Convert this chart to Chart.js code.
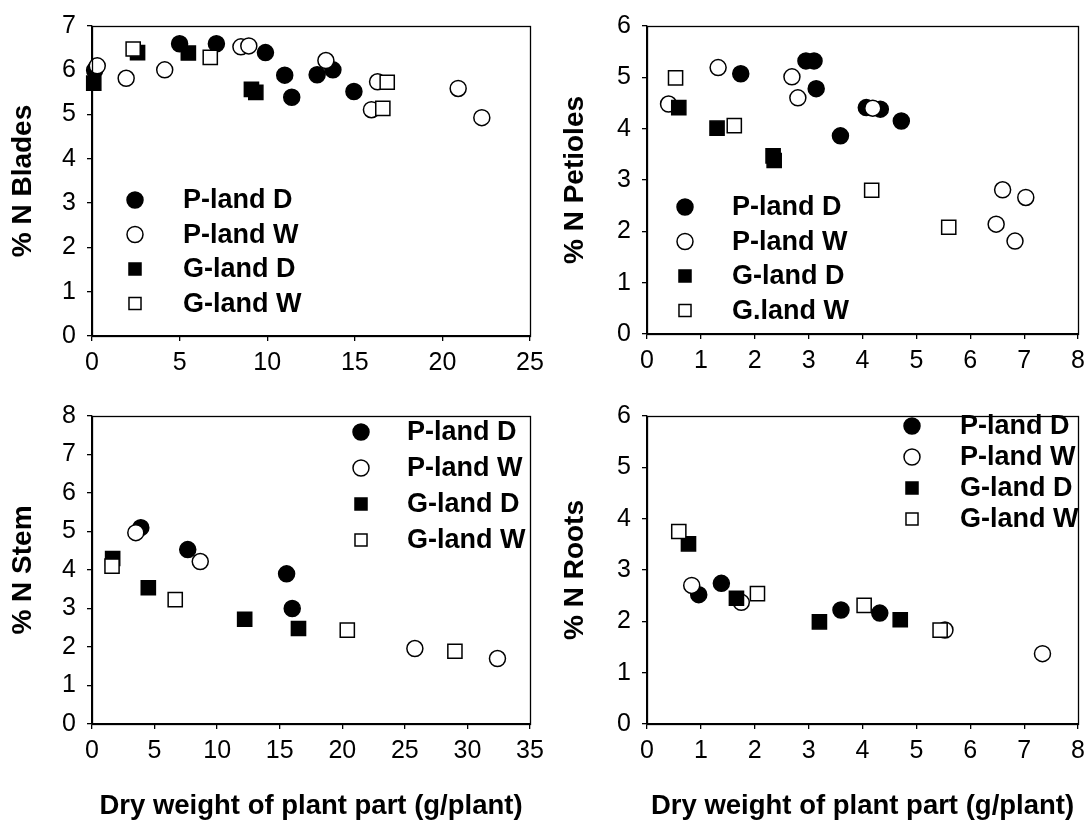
<!DOCTYPE html>
<html>
<head>
<meta charset="utf-8">
<script src="https://cdn.jsdelivr.net/npm/chart.js"></script>
<style>
  body { margin: 0; background: #fff; }
  #wrap { position: relative; width: 1092px; height: 826px; }
  canvas { position: absolute; }
</style>
</head>
<body>
<div id="wrap">
  <canvas id="c1" width="556" height="390" style="left:0;top:0"></canvas>
  <canvas id="c2" width="536" height="390" style="left:556px;top:0"></canvas>
  <canvas id="c3" width="556" height="436" style="left:0;top:390px"></canvas>
  <canvas id="c4" width="536" height="436" style="left:556px;top:390px"></canvas>
</div>
<script>
// series names
const seriesNames = ["P-land D", "P-land W", "G-land D", "G-land W"];
const seriesNamesPetioles = ["P-land D", "P-land W", "G-land D", "G.land W"];

// % N Blades  [dry weight, %N]
const bladesPD = [[0.15, 6.0], [5.0, 6.6], [7.1, 6.6], [9.9, 6.4], [11.0, 5.89], [11.4, 5.39], [12.85, 5.9], [13.75, 6.01], [14.95, 5.52]];
const bladesPW = [[0.3, 6.1], [1.95, 5.82], [4.15, 6.01], [8.5, 6.53], [8.95, 6.55], [13.35, 6.22], [16.3, 5.74], [15.95, 5.11], [20.9, 5.59], [22.25, 4.93]];
const bladesGD = [[0.1, 5.71], [2.6, 6.4], [5.5, 6.39], [9.1, 5.57], [9.35, 5.5]];
const bladesGW = [[2.35, 6.48], [6.75, 6.29], [16.85, 5.73], [16.6, 5.14]];

// % N Petioles
const petiolesPD = [[1.74, 5.07], [2.95, 5.32], [3.1, 5.32], [3.14, 4.78], [3.59, 3.86], [4.07, 4.41], [4.33, 4.38], [4.72, 4.15]];
const petiolesPW = [[0.4, 4.48], [1.32, 5.19], [2.69, 5.01], [2.8, 4.6], [4.19, 4.4], [6.6, 2.81], [7.03, 2.66], [6.48, 2.14], [6.83, 1.81]];
const petiolesGD = [[0.59, 4.41], [1.3, 4.01], [2.34, 3.47], [2.36, 3.38]];
const petiolesGW = [[0.53, 4.99], [1.62, 4.06], [4.17, 2.8], [5.6, 2.08]];

// % N Stem
const stemPD = [[3.9, 5.1], [7.65, 4.53], [15.55, 3.9], [16.0, 3.0]];
const stemPW = [[3.5, 4.97], [8.65, 4.22], [25.8, 1.96], [32.4, 1.7]];
const stemGD = [[1.65, 4.3], [4.5, 3.54], [12.2, 2.72], [16.5, 2.48]];
const stemGW = [[1.6, 4.1], [6.65, 3.23], [20.4, 2.44], [29.0, 1.89]];

// % N Roots
const rootsPD = [[0.96, 2.52], [1.38, 2.74], [3.6, 2.22], [4.32, 2.16]];
const rootsPW = [[0.83, 2.7], [1.75, 2.37], [5.53, 1.83], [7.34, 1.37]];
const rootsGD = [[0.77, 3.51], [1.66, 2.45], [3.2, 1.99], [4.7, 2.03]];
const rootsGW = [[0.59, 3.75], [2.05, 2.54], [4.03, 2.31], [5.44, 1.83]];

const FONT = "'Liberation Sans', Arial, sans-serif";

const frame = {
  id: "frame",
  afterDatasetsDraw(chart) {
    const a = chart.chartArea, ctx = chart.ctx;
    ctx.save();
    ctx.strokeStyle = "#000";
    ctx.lineWidth = 1.3;
    ctx.strokeRect(Math.round(a.left) + 0.5, Math.round(a.top) + 0.5, Math.round(a.right - a.left), Math.round(a.bottom - a.top));
    ctx.restore();
  }
};

const innerLegend = {
  id: "innerLegend",
  afterDraw(chart, args, opts) {
    const ctx = chart.ctx;
    ctx.save();
    ctx.font = "bold 27px " + FONT;
    ctx.textBaseline = "middle";
    chart.data.datasets.forEach((ds, i) => {
      const y = opts.y + i * opts.dy;
      ctx.fillStyle = ds.backgroundColor;
      ctx.strokeStyle = ds.borderColor;
      ctx.lineWidth = ds.borderWidth;
      Chart.helpers.drawPoint(ctx, { pointStyle: ds.pointStyle, radius: ds.pointStyle === "circle" ? 8 : 8.5, borderWidth: ds.borderWidth }, opts.x, y);
      ctx.fillStyle = "#000";
      ctx.fillText(ds.label, opts.tx, y + 1);
    });
    ctx.restore();
  }
};

function series(label, pts, filled, style, order) {
  return {
    label: label,
    data: pts.map(p => ({ x: p[0], y: p[1] })),
    pointStyle: style,
    pointRadius: style === "circle" ? 8 : 10,
    pointHoverRadius: style === "circle" ? 8 : 10,
    backgroundColor: filled ? "#000" : "#fff",
    borderColor: "#000",
    borderWidth: 1.5,
    clip: false,
    order: order
  };
}

function makePanel(id, cfg) {
  new Chart(document.getElementById(id), {
    type: "scatter",
    data: {
      datasets: [
        series(cfg.names[0], cfg.sets[0], true, "circle", 3),
        series(cfg.names[1], cfg.sets[1], false, "circle", 2),
        series(cfg.names[2], cfg.sets[2], true, "rect", 1),
        series(cfg.names[3], cfg.sets[3], false, "rect", 0)
      ]
    },
    options: {
      responsive: false,
      animation: false,
      events: [],
      layout: { padding: { left: 0, top: cfg.padTop, right: cfg.padRight, bottom: 0 } },
      plugins: {
        legend: { display: false },
        tooltip: { enabled: false },
        innerLegend: cfg.legend
      },
      scales: {
        x: {
          type: "linear",
          min: 0, max: cfg.xMax,
          ticks: { stepSize: cfg.xStep, color: "#000", font: { family: FONT, size: 25 }, padding: 7, maxRotation: 0 },
          grid: { drawOnChartArea: false, drawTicks: true, tickLength: 5, color: "#000", lineWidth: 1.3 },
          border: { display: true, color: "#000", width: 1.3 },
          title: {
            display: cfg.xTitle,
            text: "Dry weight of plant part (g/plant)",
            color: "#000",
            font: { family: FONT, size: 27.5, weight: "bold" },
            padding: { top: 0, bottom: 3 }
          },
          afterFit(s) { s.height = cfg.xHeight; }
        },
        y: {
          min: 0, max: cfg.yMax,
          ticks: { stepSize: 1, color: "#000", font: { family: FONT, size: 25 }, padding: 11 },
          grid: { drawOnChartArea: false, drawTicks: true, tickLength: 5, color: "#000", lineWidth: 1.3 },
          border: { display: true, color: "#000", width: 1.3 },
          title: {
            display: true,
            text: cfg.yTitle,
            color: "#000",
            font: { family: FONT, size: 28, weight: "bold" },
            padding: { top: cfg.yTitlePad, bottom: 0 }
          },
          afterFit(s) { s.width = cfg.yWidth; }
        }
      }
    },
    plugins: [frame, innerLegend]
  });
}

makePanel("c1", {
  names: seriesNames, sets: [bladesPD, bladesPW, bladesGD, bladesGW],
  xMax: 25, xStep: 5, yMax: 7, yTitle: "% N Blades", xTitle: false,
  padTop: 18, padRight: 26, xHeight: 54, yWidth: 92, yTitlePad: 6,
  legend: { x: 135, y: 200, dy: 34.5, tx: 183 }
});
makePanel("c2", {
  names: seriesNamesPetioles, sets: [petiolesPD, petiolesPW, petiolesGD, petiolesGW],
  xMax: 8, xStep: 1, yMax: 6, yTitle: "% N Petioles", xTitle: false,
  padTop: 18, padRight: 11, xHeight: 56, yWidth: 91, yTitlePad: 2,
  legend: { x: 129, y: 207, dy: 34.5, tx: 176 }
});
makePanel("c3", {
  names: seriesNames, sets: [stemPD, stemPW, stemGD, stemGW],
  xMax: 35, xStep: 5, yMax: 8, yTitle: "% N Stem", xTitle: true,
  padTop: 16, padRight: 26, xHeight: 102, yWidth: 92, yTitlePad: 6,
  legend: { x: 361, y: 42, dy: 36, tx: 407 }
});
makePanel("c4", {
  names: seriesNames, sets: [rootsPD, rootsPW, rootsGD, rootsGW],
  xMax: 8, xStep: 1, yMax: 6, yTitle: "% N Roots", xTitle: true,
  padTop: 16, padRight: 11, xHeight: 102, yWidth: 91, yTitlePad: 2,
  legend: { x: 356, y: 36, dy: 31, tx: 404 }
});
</script>
</body>
</html>
